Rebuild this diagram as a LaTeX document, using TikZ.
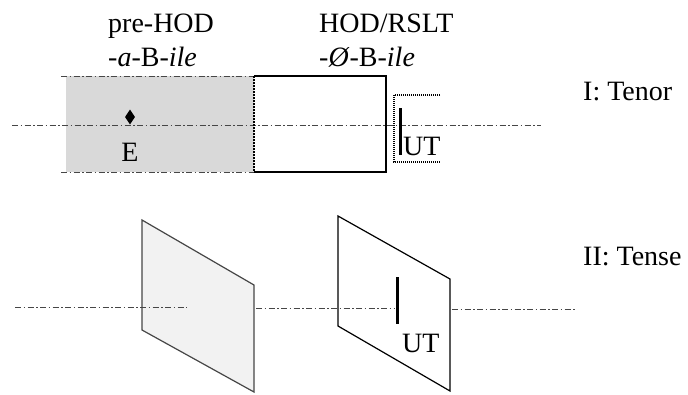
\documentclass[tikz,border=0pt]{standalone}
\usepackage{fontspec}
\setmainfont{Liberation Serif}
\usetikzlibrary{shapes.geometric}
\definecolor{schatten}{RGB}{217,217,217}
\definecolor{hell}{RGB}{242,242,242}
\definecolor{strich}{RGB}{70,70,70}

\begin{document}
\begin{tikzpicture}[x=1pt, y=-1pt, line join=miter,
	every node/.style={font=\fontsize{28}{34}\selectfont, inner sep=0pt},
	achse/.style={strich, line width=0.9pt, dash pattern=on 6pt off 2.5pt on 1.5pt off 2.5pt},
	rand/.style={black, line width=1.4pt},
	punkte/.style={black, line width=1.2pt, dash pattern=on 1pt off 1pt},
	jetzt/.style={black, line width=3pt}]

	\useasboundingbox (0,0) rectangle (688,394);

	% I: Tenor
	\node[anchor=base west] (prehod) at (108,32) {pre-HOD};
	\node[anchor=base west] (prehodform) at (108,66) {-\textit{a}-B-\textit{ile}};
	\node[anchor=base west] (hod) at (319,32) {HOD/RSLT};
	\node[anchor=base west] (hodform) at (319,66) {-\textit{Ø}-B-\textit{ile}};

	\fill[schatten] (66,76) rectangle (254,172);
	\draw[achse] (61,76) -- (254,76);
	\draw[achse] (61,172) -- (254,172);
	\draw[achse] (12,125) -- (541,125);
	\draw[rand] (254,76) -- (386,76) -- (386,172) -- (254,172);
	\draw[black, line width=1.2pt, dash pattern=on 2pt off 1pt] (254,76) -- (254,172);

	\node[diamond, fill=black, minimum width=10pt, minimum height=15pt] (ereignis) at (130,117) {};
	\node[anchor=base] (e) at (130,161) {E};

	\draw[punkte] (440,95) -- (394,95) -- (394,162) -- (440,162);
	\draw[jetzt] (400,108) -- (400,155);
	\node[anchor=base west] (ut1) at (403,155) {UT};
	\node[anchor=west] (tenor) at (583,92) {I: Tenor};

	% II: Tense
	\filldraw[fill=hell, draw=strich, line width=1.2pt] (142,220) -- (254,285) -- (254,392) -- (142,330) -- cycle;
	\draw[achse] (15,307) -- (187,307);
	\draw[rand, line width=1.2pt] (338,216) -- (450,279) -- (450,391) -- (338,326) -- cycle;
	\draw[achse] (256,308) -- (395,308);
	\draw[achse] (452,309) -- (575,309);
	\draw[jetzt] (397,277) -- (397,324);
	\node[anchor=base west] (ut2) at (402,352) {UT};
	\node[anchor=west] (tense) at (583,257) {II: Tense};

\end{tikzpicture}
\end{document}
